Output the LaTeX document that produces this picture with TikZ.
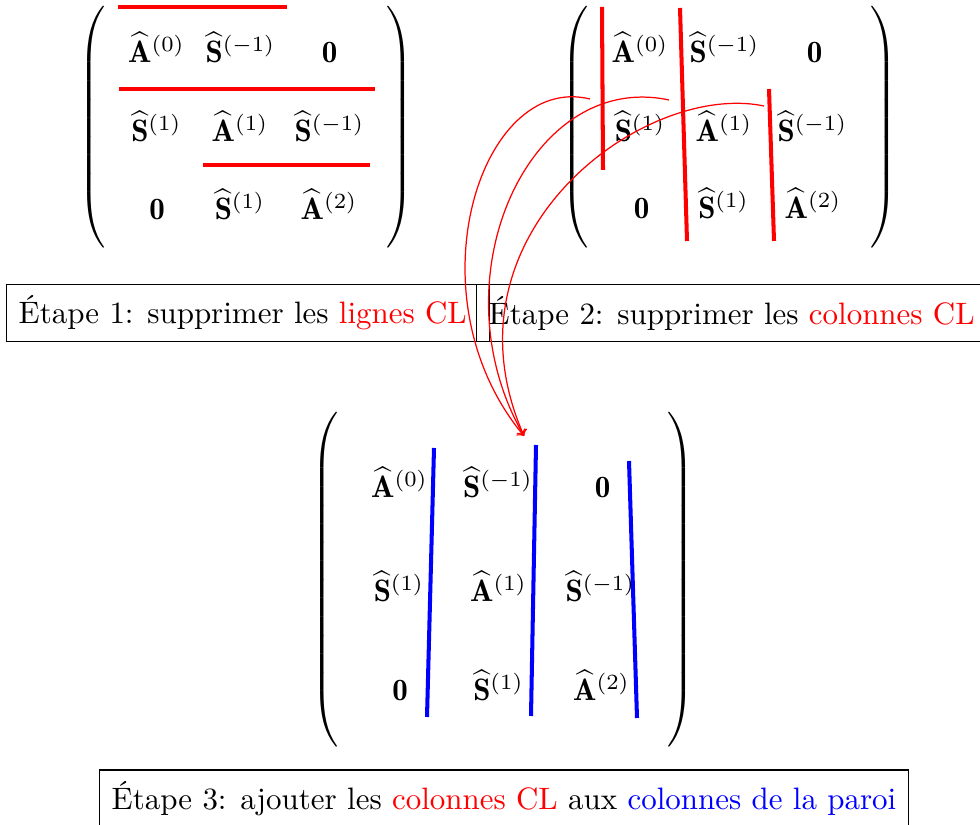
\documentclass[tikz,border=0pt]{standalone}
\usepackage{fontspec}
\usepackage{amsmath}
\newcommand{\hA}[1]{\widehat{\mathbf{A}}^{(#1)}}
\newcommand{\hS}[1]{\widehat{\mathbf{S}}^{(#1)}}
% #2 = half height of the delimiter, centred on the math axis (2.5pt)
\newcommand{\bigpar}[2]{{\delimiterfactor=1000\delimitershortfall=0pt\dimen0=#2\advance\dimen0 by 2.5pt\dimen2=#2\advance\dimen2 by -2.5pt$\left#1\vrule height\dimen0 depth\dimen2 width 0pt\right.$}}
\newcommand{\bigparR}[2]{{\delimiterfactor=1000\delimitershortfall=0pt\dimen0=#2\advance\dimen0 by 2.5pt\dimen2=#2\advance\dimen2 by -2.5pt$\left.\vrule height\dimen0 depth\dimen2 width 0pt\right#1$}}
\tikzset{
  ent/.style={anchor=base, inner sep=0pt},
  paren/.style={inner sep=0pt},
  remline/.style={red, line width=1.3pt},
  wallline/.style={blue, line width=1.3pt},
  stepbox/.style={draw, line width=0.4pt, minimum height=18.4pt, inner xsep=3.9pt, anchor=west},
  arr/.style={red, ->, line width=0.4pt}
}
\begin{document}
\begin{tikzpicture}[x=0.3228pt,y=-0.3228pt]
\useasboundingbox (0,0) rectangle (980,825);

% ---------- Matrix 1 ----------
\node[paren] (p1l) at (94,127.5) {\bigpar{(}{38.6pt}};
\node[paren] (p1r) at (398,127.5) {\bigparR{)}{38.6pt}};
\node[ent] (a11) at (156.5,63) {$\hA{0}$};
\node[ent] (a12) at (240.5,63) {$\hS{-1}$};
\node[ent] (a13) at (329.5,63) {$\mathbf{0}$};
\node[ent] (a21) at (156.5,142) {$\hS{1}$};
\node[ent] (a22) at (240,142) {$\hA{1}$};
\node[ent] (a23) at (329.5,142) {$\hS{-1}$};
\node[ent] (a31) at (157,220) {$\mathbf{0}$};
\node[ent] (a32) at (240,220) {$\hS{1}$};
\node[ent] (a33) at (329,220) {$\hA{2}$};
\draw[remline] (118,7) -- (287,7);
\draw[remline] (119,89) -- (375,89);
\draw[remline] (203,165) -- (370,165);

% ---------- Matrix 2 ----------
\node[paren] (p2l) at (577,127.5) {\bigpar{(}{38.6pt}};
\node[paren] (p2r) at (882,127.5) {\bigparR{)}{38.6pt}};
\node[ent] (b11) at (640,63) {$\hA{0}$};
\node[ent] (b12) at (724.5,63) {$\hS{-1}$};
\node[ent] (b13) at (814.5,63) {$\mathbf{0}$};
\node[ent] (b21) at (640,142) {$\hS{1}$};
\node[ent] (b22) at (724,142) {$\hA{1}$};
\node[ent] (b23) at (812.5,142) {$\hS{-1}$};
\node[ent] (b31) at (641.5,219) {$\mathbf{0}$};
\node[ent] (b32) at (723.5,219) {$\hS{1}$};
\node[ent] (b33) at (813,219) {$\hA{2}$};
\draw[remline] (602,7) -- (603,170);
\draw[remline] (680,8) -- (687,241);
\draw[remline] (769,89) -- (774,241);

% ---------- Step boxes ----------
\node[stepbox] (s1) at (6,313) {Étape 1: supprimer les \textcolor{red}{lignes CL}\kern3.5pt};
\node[stepbox] (s2) at (476,313) {Étape 2: supprimer les \textcolor{red}{colonnes CL}\kern3.5pt};

% ---------- Matrix 3 ----------
\node[paren] (p3l) at (327,580) {\bigpar{(}{52.2pt}};
\node[paren] (p3r) at (679,580) {\bigparR{)}{52.2pt}};
\node[ent] (c11) at (399.5,498) {$\hA{0}$};
\node[ent] (c12) at (498,498) {$\hS{-1}$};
\node[ent] (c13) at (602.5,498) {$\mathbf{0}$};
\node[ent] (c21) at (399,602) {$\hS{1}$};
\node[ent] (c22) at (498.5,602) {$\hA{1}$};
\node[ent] (c23) at (600.5,602) {$\hS{-1}$};
\node[ent] (c31) at (400,701) {$\mathbf{0}$};
\node[ent] (c32) at (498.5,701) {$\hS{1}$};
\node[ent] (c33) at (601.5,701) {$\hA{2}$};
\draw[wallline] (434,448) -- (427,717);
\draw[wallline] (536,445) -- (531,716);
\draw[wallline] (629,461) -- (637,718);

\node[stepbox] (s3) at (99,798.5) {Étape 3: ajouter les \textcolor{red}{colonnes CL} aux \textcolor{blue}{colonnes de la paroi}};

% ---------- Arrows ----------
\coordinate (t1) at (590,99);
\coordinate (t2) at (669,100);
\coordinate (t3) at (764,106);
\coordinate (tgt) at (524,436);
\draw[arr] (t1) .. controls (480,72) and (409,297) .. (tgt);
\draw[arr] (t2) .. controls (529,70) and (434,279) .. (tgt);
\draw[arr] (t3) .. controls (644,81) and (436,234) .. (tgt);
\end{tikzpicture}
\end{document}
